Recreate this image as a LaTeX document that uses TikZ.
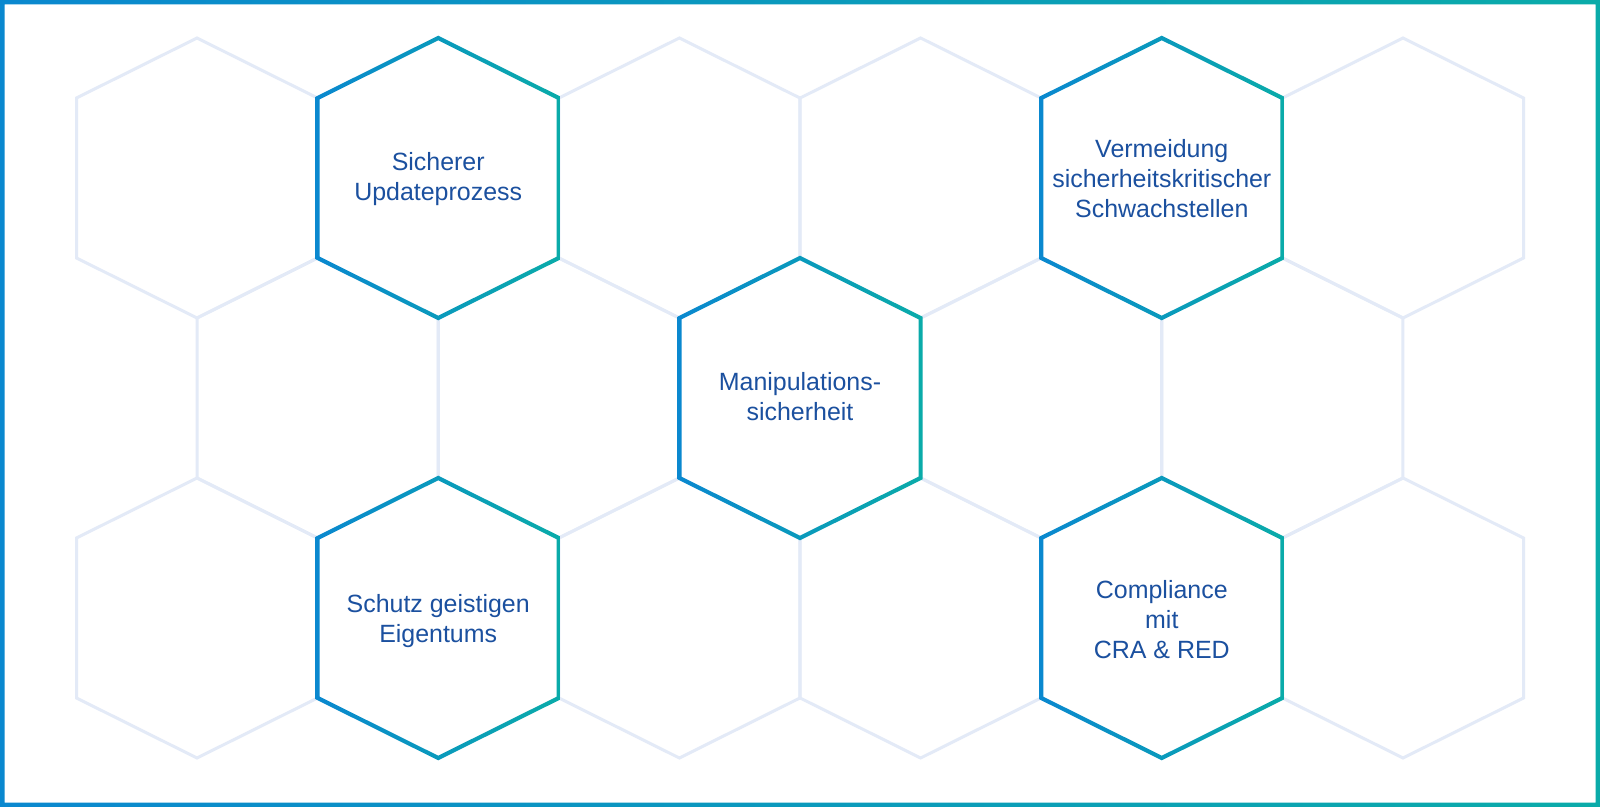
\documentclass[tikz,border=0pt]{standalone}
\usepackage{fontspec}
\setmainfont{Liberation Sans}
\usepackage{tikz}
\definecolor{hexblue}{HTML}{0A88CF}
\definecolor{hexteal}{HTML}{0AABA9}
\definecolor{hexfaint}{HTML}{E3EAF7}
\definecolor{labelblue}{HTML}{1B509F}
\def\hexagon[#1](#2,#3){\draw[#1, shift={(#2,#3)}] (0,-140) -- (120.5,-80) -- (120.5,80) -- (0,140) -- (-120.5,80) -- (-120.5,-80) -- cycle;}
\def\hexring(#1,#2){\shade[left color=hexblue, right color=hexteal, even odd rule, shift={(#1,#2)}] (0,-142.3) -- (122.5,-81.3) -- (122.5,81.3) -- (0,142.3) -- (-122.5,81.3) -- (-122.5,-81.3) -- cycle (0,-137.7) -- (118.5,-78.7) -- (118.5,78.7) -- (0,137.7) -- (-118.5,78.7) -- (-118.5,-78.7) -- cycle;}
\tikzset{
	faint/.style={line width=0.06cm, color=hexfaint, line join=miter},
	hextext/.style={align=center, text=labelblue, font=\fontsize{14.2}{17.1}\selectfont}
}
\begin{document}
\begin{tikzpicture}[x=0.02cm, y=-0.02cm]
			%%%%% START %%%%%
			
			\useasboundingbox (0,0) rectangle (1600,807);
			\fill[white] (0,0) rectangle (1600,807);
			
			\hexagon[faint](197,178)
			\hexagon[faint](679.4,178)
			\hexagon[faint](920.6,178)
			\hexagon[faint](1403,178)
			
			\hexagon[faint](317.6,398)
			\hexagon[faint](558.8,398)
			\hexagon[faint](1041.2,398)
			\hexagon[faint](1282.4,398)
			
			\hexagon[faint](197,618)
			\hexagon[faint](679.4,618)
			\hexagon[faint](920.6,618)
			\hexagon[faint](1403,618)
			
			\hexring(438.2,178)
			\hexring(1161.8,178)
			\hexring(800,398)
			\hexring(438.2,618)
			\hexring(1161.8,618)
			
			\node[hextext] (update) at (438.2,179) {Sicherer\\Updateprozess};
			\node[hextext] (vermeidung) at (1161.8,179) {Vermeidung\\sicherheitskritischer\\Schwachstellen};
			\node[hextext] (manipulation) at (800,397) {Manipulations-\\sicherheit};
			\node[hextext] (schutz) at (438.2,621) {Schutz geistigen\\Eigentums};
			\node[hextext] (compliance) at (1161.8,620) {Compliance\\mit\\CRA \& RED};
			
			\shade[left color=hexblue, right color=hexteal, even odd rule] (0,0) rectangle (1600,807) (4.5,4.5) rectangle (1595.5,802.5);
			
			%%%%% END %%%%%
\end{tikzpicture}
\end{document}
